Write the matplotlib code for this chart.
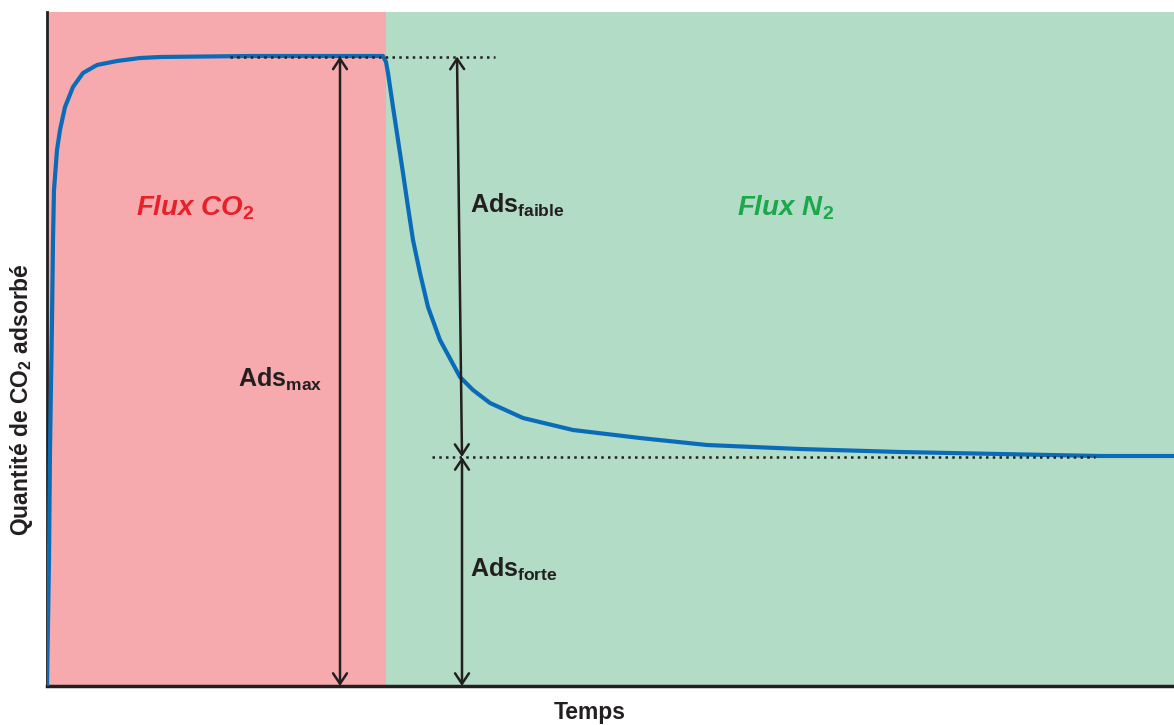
import matplotlib
matplotlib.use("Agg")
import matplotlib.pyplot as plt

plt.rcParams['font.family'] = ['Liberation Sans', 'DejaVu Sans']
plt.rcParams['mathtext.fontset'] = 'custom'
plt.rcParams['mathtext.rm'] = 'Liberation Sans:bold'
plt.rcParams['mathtext.it'] = 'Liberation Sans:bold:italic'
plt.rcParams['mathtext.bf'] = 'Liberation Sans:bold'

# ---- data (time units, adsorbed amount units) ----
time = [0, 2, 3, 5, 6, 7, 10, 13, 18, 26, 36, 50, 70, 93, 113, 203, 336,
        339, 341, 346, 351, 356, 361, 366, 373, 381, 393, 413, 426, 443, 476,
        526, 593, 660, 753, 853, 953, 1053, 1127]
amount = [0, 126, 236, 366, 446, 496, 536, 556, 579, 599, 613, 621, 625, 628,
          629, 630, 630, 624, 613, 579, 546, 513, 479, 446, 413, 379, 346, 309,
          296, 283, 268, 256, 248, 241, 237, 234, 232, 230, 230]
switch_time = 339
t_end = 1127
ads_max = 629.5
ads_forte = 229
zone_labels = ['Flux CO$_{\\mathit{2}}$', 'Flux N$_{\\mathit{2}}$']

PINK = '#f6aaad'
GREEN = '#b2dcc6'
BLUE = '#0a6cb8'
DARK = '#231f20'

fig = plt.figure(figsize=(11.74, 7.25), dpi=100)
ax = fig.add_axes([47/1174, 39/725, 1 - 47/1174, (686-12)/725])
ax.set_xlim(0, t_end)
ax.set_ylim(0, 674)

ax.axvspan(0, switch_time, color=PINK, lw=0, zorder=0)
ax.axvspan(switch_time, t_end, color=GREEN, lw=0, zorder=0)

ax.plot(time, amount, color=BLUE, lw=3, zorder=3, solid_capstyle='round',
        solid_joinstyle='round')

# dotted reference lines
ax.plot([183, 448], [ads_max, ads_max], color=DARK, lw=1.8,
        linestyle=(0, (1, 1.7)), zorder=4)
ax.plot([385, 1048], [ads_forte, ads_forte], color=DARK, lw=1.8,
        linestyle=(0, (1, 1.7)), zorder=4)

arrow_kw = dict(arrowstyle='<->,head_length=0.75,head_width=0.5',
                lw=1.8, color=DARK, shrinkA=0, shrinkB=0)
ax.annotate('', xy=(293, ads_max), xytext=(293, 0), arrowprops=arrow_kw, zorder=5)
ax.annotate('', xy=(410, ads_max), xytext=(415, ads_forte), arrowprops=arrow_kw, zorder=5)
ax.annotate('', xy=(415, ads_forte), xytext=(415, 0), arrowprops=arrow_kw, zorder=5)

tk = dict(fontsize=18, fontweight='bold', color=DARK, va='baseline', ha='left', zorder=6)
ax.text(423, 686-213, 'Ads$_{\\mathrm{faible}}$', **tk)
ax.text(191, 686-387, 'Ads$_{\\mathrm{max}}$', **tk)
ax.text(423, 686-577, 'Ads$_{\\mathrm{forte}}$', **tk)

ax.text(148, 686-216, zone_labels[0], fontsize=20, fontweight='bold', fontstyle='italic',
        color='#e8202a', ha='center', va='baseline', zorder=6)
ax.text(739, 686-216, zone_labels[1], fontsize=20, fontweight='bold', fontstyle='italic',
        color='#1aa84b', ha='center', va='baseline', zorder=6)

for s in ['top', 'right']:
    ax.spines[s].set_visible(False)
ax.spines['left'].set_linewidth(2)
ax.spines['bottom'].set_linewidth(2.5)
ax.spines['left'].set_color(DARK)
ax.spines['bottom'].set_color(DARK)
ax.set_xticks([])
ax.set_yticks([])

fig.text(22/1174, 1 - 400/725, 'Quantité de CO$_{\\mathrm{2}}$ adsorbé', rotation=90,
         fontsize=16.5, fontweight='bold', color=DARK, ha='center', va='center')
fig.text(590/1174, 1 - 713/725, 'Temps', fontsize=16.5, fontweight='bold', color=DARK,
         ha='center', va='center')

fig.savefig('out.png', dpi=100)
